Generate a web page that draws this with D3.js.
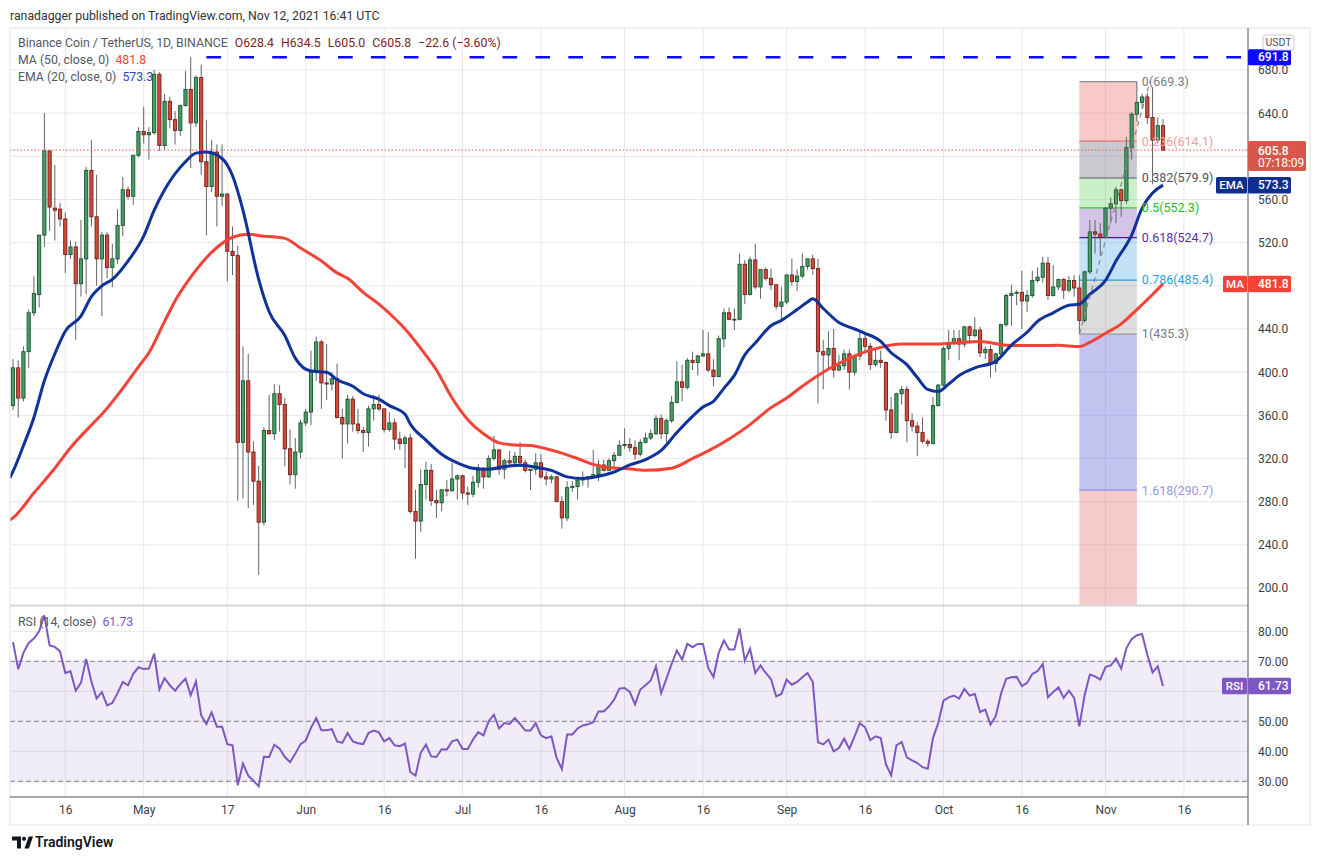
<!DOCTYPE html>
<html>
<head>
<meta charset="utf-8">
<script src="https://cdn.jsdelivr.net/npm/d3@7"></script>
<style>
  body { margin: 0; background: #fff; }
  svg { display: block; font-family: Roboto, "Open Sans", sans-serif; }
</style>
</head>
<body>
<svg id="chart" width="1320" height="860"></svg>
<script>
// BNB/USDT daily, Apr 6 - Nov 12 2021
const startDate = new Date(Date.UTC(2021, 3, 6))
// [open, high, low, close] per day
const ohlc = [
  [369,412,365,404],[404,411,358,376],[376,424,373,419],[419,458,404,455],[455,489,452,473],
  [472,527,460,527],[527,640,516,605],[605,606,531,553],[552,592,522,550],[551,557,535,542],
  [542,548,492,509],[509,522,505,516],[516,521,430,482],[482,541,470,505],[505,590,472,587],
  [587,615,535,544],[544,583,480,505],[505,530,452,527],[527,530,487,497],[497,519,479,505],
  [505,551,500,536],[536,581,526,569],[569,572,560,563],[563,601,555,601],[601,627,599,623],
  [623,646,612,620],[620,627,597,622],[622,680,620,676],[676,678,605,610],[610,658,606,651],
  [651,655,626,634],[634,642,611,624],[624,648,619,647],[647,679,646,662],[662,692,589,631],
  [631,675,627,673],[673,685,583,595],[595,634,527,572],[572,615,567,604],[604,611,535,563],
  [563,611,554,565],[565,566,484,512],[512,535,490,508],[508,517,281,335],[335,424,283,392],
  [392,417,274,326],[326,336,277,299],[299,313,212,261],[261,349,258,346],[346,379,342,343],
  [343,389,337,380],[380,388,345,370],[370,376,313,329],[329,347,296,305],[305,339,292,326],
  [326,356,320,353],[353,366,350,363],[363,420,351,400],[400,433,392,428],[428,430,366,390],
  [390,426,374,389],[389,400,383,394],[394,408,357,358],[358,366,320,352],[352,379,334,375],
  [375,378,345,352],[352,366,343,346],[346,349,326,344],[344,369,331,366],[366,379,355,370],
  [370,379,364,366],[366,366,344,347],[347,363,345,353],[353,357,328,338],[338,345,328,334],
  [334,341,311,339],[339,343,269,271],[271,291,227,262],[262,310,252,296],[296,317,282,309],
  [309,315,276,281],[281,291,265,279],[279,291,271,291],[291,300,285,290],[290,316,290,301],
  [301,305,282,304],[304,305,282,288],[288,294,277,287],[287,304,284,298],[298,315,293,309],
  [309,312,292,303],[303,323,302,320],[320,341,318,328],[328,328,305,310],[310,320,301,318],
  [318,327,312,316],[316,326,313,322],[322,335,312,316],[316,319,307,309],[309,310,291,310],
  [310,325,305,316],[316,324,301,303],[303,308,295,301],[301,305,297,303],[303,304,280,280],
  [280,285,255,265],[265,299,262,293],[293,299,289,294],[294,303,282,300],[300,308,295,302],
  [302,303,293,303],[303,328,302,305],[305,319,299,314],[314,319,308,309],[309,320,309,318],
  [318,326,312,323],[323,337,322,332],[332,348,329,333],[333,339,326,330],[330,337,319,324],
  [324,338,322,335],[335,344,334,339],[339,347,337,343],[343,360,342,357],[357,361,338,343],
  [343,357,335,355],[355,378,353,372],[372,410,371,391],[391,407,373,386],[386,413,384,411],
  [411,419,402,409],[409,416,397,415],[415,439,414,417],[417,437,400,402],[402,412,387,396],
  [396,434,396,431],[431,459,423,455],[455,460,448,449],[449,459,439,449],[449,510,448,500],
  [500,504,463,472],[472,507,471,504],[504,519,477,479],[479,495,468,495],[495,497,485,487],
  [487,496,476,481],[481,481,458,461],[461,479,449,465],[465,491,463,490],[490,505,480,484],
  [484,495,475,489],[489,510,487,498],[498,505,495,505],[505,509,490,496],[496,505,371,419],
  [419,430,384,416],[416,438,403,422],[422,440,395,402],[402,416,401,406],[406,421,402,417],
  [417,421,384,400],[400,416,397,415],[415,439,411,431],[431,436,418,424],[424,427,402,407],
  [407,421,405,411],[411,420,404,409],[409,410,355,365],[365,377,338,344],[344,381,344,380],
  [380,387,370,384],[384,387,335,355],[355,362,345,350],[350,354,322,344],[344,358,334,336],
  [336,338,331,334],[334,377,333,369],[369,389,368,388],[388,424,387,422],[422,439,411,427],
  [427,439,425,431],[431,439,411,426],[426,443,423,442],[442,443,426,434],[434,451,432,439],
  [439,442,414,418],[418,424,412,421],[421,425,395,408],[408,418,400,417],[417,445,414,444],
  [444,473,442,471],[471,481,443,473],[473,476,462,474],[474,494,440,466],[466,476,456,471],
  [471,494,469,485],[485,497,483,488],[488,507,483,501],[501,507,467,471],[471,499,470,479],
  [479,486,476,486],[486,487,468,476],[476,489,474,485],[485,490,470,478],[478,490,435.3,448],
  [448,494,446,493],[493,541,491,530],[530,541,510,528],[528,538,508,525],[525,553,524,552],
  [552,562,538,556],[556,572,538,569],[569,570,544,559],[559,618,556,608],[608,641,597,639],
  [639,669.3,632,650],[650,658,644,655],[655,659,630,636],[636,664,574,615],[615,636,612,628.4],
  [628.4,634.5,605.0,605.8]
]
// RSI(14) per day
const rsi = [
  76.4,67.4,72.8,76.1,77.6,80.0,85.3,75.3,74.8,73.3, 66.1,66.7,60.2,62.8,70.8,63.3,57.6,59.7,55.3,56.1,
  59.4,63.1,62.0,65.8,68.0,67.4,67.6,72.6,60.6,64.4, 62.0,60.2,62.4,64.2,58.7,63.3,52.0,49.1,53.0,48.2,
  48.2,42.4,42.0,28.7,35.9,31.9,30.2,28.3,38.2,38.1, 42.2,40.9,38.1,36.4,39.2,42.4,43.6,47.8,51.1,47.0,
  47.0,47.4,43.3,42.8,46.1,43.3,42.7,42.4,46.1,46.9, 46.3,43.3,44.4,42.0,41.7,42.6,33.1,31.9,39.5,42.2,
  38.3,38.1,40.7,40.6,43.3,43.9,40.8,40.8,43.9,46.4, 45.3,50.0,52.2,47.6,49.4,49.1,51.1,49.1,46.9,46.9,
  49.4,45.3,44.4,45.0,37.8,34.1,45.6,45.6,47.6,48.6, 49.0,49.7,53.3,53.3,54.9,57.2,60.9,61.1,59.8,55.6,
  60.6,62.0,63.6,68.3,59.4,64.2,69.1,73.6,70.6,75.8, 74.7,75.8,75.8,67.8,64.8,72.8,76.9,73.9,73.9,80.9,
  70.2,74.2,66.1,68.6,66.1,64.1,58.3,59.1,63.9,62.2, 63.1,64.7,66.1,63.1,43.0,42.3,43.9,40.0,41.1,44.2,
  40.8,45.0,49.4,48.0,43.7,45.0,44.4,35.6,32.0,42.0, 43.1,38.0,37.0,36.1,34.7,34.2,44.4,49.4,56.9,58.0,
  58.6,57.6,60.8,58.6,59.1,53.1,53.9,48.9,51.7,59.1, 64.2,64.7,64.8,61.7,62.8,65.8,66.7,69.1,58.0,59.8,
  61.3,57.8,60.2,57.8,48.3,58.7,65.6,65.0,63.9,68.1, 68.6,70.9,67.6,74.4,77.4,78.7,79.1,72.2,66.3,68.3,
  61.73
]
// [day index, value]
const ema20 = [
  [-0.6,302],[0,308],[2,332],[4,358],[6,392],[8,417],[10,438],[13,452],[15,470],[17,480],[19,486],
  [22,503],[25,526],[27,550],[29,569],[33,595],[35,603],[37,604],[40,598],[42,582],[44,550],[47,486],
  [49,456],[52,434],[54,413],[57,401],[60,400],[62,393],[65,387],[67,380],[70,375],[72,369],[75,361],
  [76,352],[79,337],[82,324],[85,316],[88,311],[91,310],[94,312.5],[97,313.8],[100,312],[103,309],
  [106,303],[109,301.5],[112,303.5],[115,307.5],[118,314],[121,319],[124,327.5],[127,344],[130,359],
  [132,367.7],[134,373],[136,385],[138,397],[140,416],[142,427],[145,443],[147,448],[150,458],[152,465],
  [153,468],[155,459],[158,446],[161,440],[163,436],[166,428.5],[168,418],[171,407],[173,395],[175,384],
  [177,382],[179,389],[181,397],[184,404],[188,410],[191,425],[194,437],[196,447],[199,455],[202,462],
  [204,463],[206,472],[209,485],[211,503],[214,527],[216,552],[218,566],[220,573.3]
]
const ma50 = [
  [-0.6,263],[0,265],[4,288],[8,311],[11,330],[15,351],[17,361],[21,385],[24,405],[26,418],[29,447],
  [31,466],[34,488],[38,511],[42,525],[45,527.7],[48,526],[52,524],[55,515],[59,503],[62,492],[64,487],
  [67,474],[70,463],[73,450],[75,440],[78,422],[81,402],[84,376],[87,356],[90,343],[93,334.5],[96,332.5],
  [99,332],[102,329],[105,325],[108,320],[111,314.5],[114,311.5],[117,310.8],[121,309],[126,311],[130,320],
  [133,327],[137,338],[141,351.4],[145,367],[148,376],[151,387],[154,397],[158,408],[162,417],[166,423],
  [170,426],[176,426],[180,427],[185,428.5],[190,425],[196,424.6],[200,425],[204,423.7],[206,427.7],
  [209,436],[212,444.7],[215,458],[218,472],[220,481.8]
]
const fibRatios = [0, 0.236, 0.382, 0.5, 0.618, 0.786, 1, 1.618, 2.618]
const fibLabels = ["0", "0.236", "0.382", "0.5", "0.618", "0.786", "1", "1.618", ""]
const fibHigh = 669.3, fibLow = 435.3
const fibLowDay = 204, fibHighDay = 215
const athPrice = 691.8, athFromDay = 37
const lastPrice = 605.8, lastEma = 573.3, lastMa = 481.8, lastRsi = 61.73
const priceTicks = [200, 240, 280, 320, 360, 400, 440, 480, 520, 560, 600, 640, 680]
const rsiTicks = [30, 40, 50, 60, 70, 80]
const timeTicks = [
  ["2021-04-16", "16"], ["2021-05-01", "May"], ["2021-05-17", "17"], ["2021-06-01", "Jun"],
  ["2021-06-16", "16"], ["2021-07-01", "Jul"], ["2021-07-16", "16"], ["2021-08-01", "Aug"],
  ["2021-08-16", "16"], ["2021-09-01", "Sep"], ["2021-09-16", "16"], ["2021-10-01", "Oct"],
  ["2021-10-16", "16"], ["2021-11-01", "Nov"], ["2021-11-16", "16"]
]

const svg = d3.select("#chart")
const left = 10, right = 1248, outerRight = 1310
const mainTop = 28, mainBottom = 605, rsiTop = 606, rsiBottom = 797, bottom = 825
const gridColor = "#e7e8ec", textColor = "#3c3f47"
const upFill = "#44a066", upStroke = "#1f5130", downFill = "#d9483b", downStroke = "#6e1f17"
const emaColor = "#0f329b", maColor = "#f44336", rsiColor = "#7e57c2"

const dayDate = i => new Date(+startDate + i * 864e5)
const x = d3.scaleUtc().domain([dayDate(0), dayDate(220)]).range([13, 1163])
const xi = i => x(dayDate(i))
const y = d3.scaleLinear().domain([200, 680]).range([588, 70])
const r = d3.scaleLinear().domain([30, 80]).range([781.3, 631.3])

const days = ohlc.map((d, i) => ({ i, date: dayDate(i), o: d[0], h: d[1], l: d[2], c: d[3] }))
const parseDay = d3.utcParse("%Y-%m-%d")
const tickDates = timeTicks.map(t => parseDay(t[0]))
const tickName = new Map(timeTicks.map(t => [+parseDay(t[0]), t[1]]))

const defs = svg.append("defs")
defs.append("clipPath").attr("id", "clipMain").append("rect")
  .attr("x", left).attr("y", mainTop).attr("width", right - left).attr("height", mainBottom - mainTop)
defs.append("clipPath").attr("id", "clipRsi").append("rect")
  .attr("x", left).attr("y", rsiTop).attr("width", right - left).attr("height", rsiBottom - rsiTop)

// header
svg.append("text").attr("x", 10).attr("y", 19.5).attr("font-size", 12.3).attr("fill", "#333")
  .text("ranadagger published on TradingView.com, Nov 12, 2021 16:41 UTC")

// grid
const grid = svg.append("g")
grid.selectAll("line.h").data(priceTicks).join("line")
  .attr("x1", left).attr("x2", right).attr("y1", d => y(d)).attr("y2", d => y(d))
  .attr("stroke", gridColor)
grid.selectAll("line.r").data([40, 60, 80]).join("line")
  .attr("x1", left).attr("x2", right).attr("y1", d => r(d)).attr("y2", d => r(d))
  .attr("stroke", gridColor)
grid.selectAll("line.v").data(tickDates).join("line")
  .attr("x1", d => x(d)).attr("x2", d => x(d)).attr("y1", mainTop).attr("y2", rsiBottom)
  .attr("stroke", gridColor)

// main pane
const main = svg.append("g").attr("clip-path", "url(#clipMain)")

// fib retracement box
const fibPrice = k => fibHigh - k * (fibHigh - fibLow)
const fibStyle = [
  { line: "#8c8f99", fill: null, label: "#787b86" },
  { line: "#e57373", fill: "rgba(231,76,76,0.3)", label: "#f0a0a0" },
  { line: "#5a5d66", fill: "rgba(120,123,134,0.4)", label: "#50535e" },
  { line: "#3cc83c", fill: "rgba(76,205,76,0.3)", label: "#22c022" },
  { line: "#4b1a8a", fill: "rgba(110,60,180,0.3)", label: "#5a2ea6" },
  { line: "#2a9ad8", fill: "rgba(60,160,230,0.3)", label: "#2c9fe0" },
  { line: "#9a9a9a", fill: "rgba(128,128,128,0.27)", label: "#787b86" },
  { line: "#8c8ff0", fill: "rgba(60,60,210,0.3)", label: "#9597ea" },
  { line: "#e57373", fill: "rgba(225,80,80,0.3)", label: "#e57373" }
]
const fx0 = xi(fibLowDay), fx1 = xi(fibHighDay)
const fib = main.append("g")
fib.selectAll("rect").data(fibRatios.slice(1)).join("rect")
  .attr("x", fx0).attr("width", fx1 - fx0)
  .attr("y", (d, i) => y(fibPrice(fibRatios[i])))
  .attr("height", (d, i) => y(fibPrice(d)) - y(fibPrice(fibRatios[i])))
  .attr("fill", (d, i) => fibStyle[i + 1].fill)
fib.selectAll("line").data(fibRatios.slice(0, 8)).join("line")
  .attr("x1", fx0).attr("x2", fx1).attr("y1", d => y(fibPrice(d))).attr("y2", d => y(fibPrice(d)))
  .attr("stroke", (d, i) => fibStyle[i].line).attr("stroke-width", 1.2)

// all-time-high dashed line
main.append("line")
  .attr("x1", xi(athFromDay)).attr("x2", right).attr("y1", y(athPrice)).attr("y2", y(athPrice))
  .attr("stroke", "#0a0aff").attr("stroke-width", 2.5).attr("stroke-dasharray", "14.7 18.2")

// candles
const bodyW = 3.2
main.append("g").selectAll("line").data(days).join("line")
  .attr("x1", d => x(d.date)).attr("x2", d => x(d.date))
  .attr("y1", d => y(d.h)).attr("y2", d => y(d.l))
  .attr("stroke", "#626469").attr("stroke-width", 1)
main.append("g").selectAll("rect").data(days).join("rect")
  .attr("x", d => x(d.date) - bodyW / 2).attr("width", bodyW)
  .attr("y", d => y(Math.max(d.o, d.c)))
  .attr("height", d => Math.max(0.8, Math.abs(y(d.o) - y(d.c))))
  .attr("fill", d => d.c >= d.o ? upFill : downFill)
  .attr("stroke", d => d.c >= d.o ? upStroke : downStroke).attr("stroke-width", 0.9)

// moving averages
const maLine = d3.line().x(d => xi(d[0])).y(d => y(d[1])).curve(d3.curveMonotoneX)
main.append("path").datum(ma50).attr("d", maLine)
  .attr("fill", "none").attr("stroke", maColor).attr("stroke-width", 3)
main.append("path").datum(ema20).attr("d", maLine)
  .attr("fill", "none").attr("stroke", emaColor).attr("stroke-width", 3)

// fib trend line
main.append("line")
  .attr("x1", fx0).attr("y1", y(fibLow)).attr("x2", xi(fibHighDay + 2.5)).attr("y2", y(fibHigh))
  .attr("stroke", "#8a8a8a").attr("stroke-width", 1.3).attr("stroke-dasharray", "5 4")

// last price dotted line
main.append("line")
  .attr("x1", left).attr("x2", right).attr("y1", y(lastPrice)).attr("y2", y(lastPrice))
  .attr("stroke", "#ef5350").attr("stroke-width", 1).attr("stroke-dasharray", "1.5 2")

// fib labels
const fmt1 = d3.format(".1f")
svg.append("g").selectAll("text").data(fibRatios.slice(0, 8)).join("text")
  .attr("x", fx1 + 5).attr("y", d => y(fibPrice(d))).attr("dy", "0.35em")
  .attr("font-size", 12.5).attr("fill", (d, i) => fibStyle[i].label)
  .text((d, i) => `${fibLabels[i]}(${fmt1(fibPrice(d))})`)

// RSI pane
const rsiG = svg.append("g").attr("clip-path", "url(#clipRsi)")
rsiG.append("rect").attr("x", left).attr("width", right - left)
  .attr("y", r(70)).attr("height", r(30) - r(70)).attr("fill", rsiColor).attr("fill-opacity", 0.11)
rsiG.selectAll("line.d").data([70, 50, 30]).join("line")
  .attr("x1", left).attr("x2", right).attr("y1", d => r(d)).attr("y2", d => r(d))
  .attr("stroke", "#787b86").attr("stroke-width", 1).attr("stroke-dasharray", "5 3")
rsiG.append("path").datum(rsi)
  .attr("d", d3.line().x((d, i) => xi(i)).y(d => r(d)))
  .attr("fill", "none").attr("stroke", rsiColor).attr("stroke-width", 2)

// frame
const frame = svg.append("g")
frame.append("rect").attr("x", left).attr("y", mainTop).attr("width", outerRight - left)
  .attr("height", bottom - mainTop).attr("fill", "none").attr("stroke", "#e0e3eb")
frame.append("line").attr("x1", left).attr("x2", right).attr("y1", mainBottom + 0.5).attr("y2", mainBottom + 0.5)
  .attr("stroke", "#d6d8de").attr("stroke-width", 2)
frame.append("line").attr("x1", left).attr("x2", right).attr("y1", rsiBottom).attr("y2", rsiBottom)
  .attr("stroke", "#50535e")
frame.append("line").attr("x1", right).attr("x2", right).attr("y1", mainTop).attr("y2", bottom)
  .attr("stroke", "#50535e")

// axes (labels under the value boxes are left out, as on the original)
function styleAxis(g) {
  g.select(".domain").remove()
  g.selectAll("text").attr("fill", textColor).attr("font-size", 12).attr("font-family", "Roboto, sans-serif")
}
const hiddenPrice = [600, 480], hiddenRsi = [60]
svg.append("g").attr("transform", `translate(${right},0)`)
  .call(d3.axisRight(y).tickValues(priceTicks.filter(v => !hiddenPrice.includes(v)))
    .tickFormat(d3.format(".1f")).tickSize(0).tickPadding(10))
  .call(styleAxis)
svg.append("g").attr("transform", `translate(${right},0)`)
  .call(d3.axisRight(r).tickValues(rsiTicks.filter(v => !hiddenRsi.includes(v)))
    .tickFormat(d3.format(".2f")).tickSize(0).tickPadding(10))
  .call(styleAxis)
svg.append("g").attr("transform", `translate(0,${rsiBottom})`)
  .call(d3.axisBottom(x).tickValues(tickDates).tickFormat(d => tickName.get(+d)).tickSize(0).tickPadding(8))
  .call(styleAxis)

// axis value boxes
function valueBox(yPos, txt, fill, w, h) {
  const g = svg.append("g")
  g.append("rect").attr("x", right).attr("y", yPos - h / 2).attr("width", w).attr("height", h)
    .attr("fill", fill).attr("rx", 1.5)
  g.append("text").attr("x", right + 10).attr("y", yPos).attr("dy", "0.35em")
    .attr("font-size", 12).attr("fill", "#fff").attr("font-weight", 500).text(txt)
  return g
}
function tagBox(yPos, txt, fill, x0) {
  svg.append("rect").attr("x", x0).attr("y", yPos - 8.25).attr("width", right - 1 - x0).attr("height", 16.5)
    .attr("fill", fill).attr("rx", 1.5)
  svg.append("text").attr("x", (x0 + right - 1) / 2).attr("y", yPos).attr("dy", "0.35em")
    .attr("text-anchor", "middle").attr("font-size", 11.5).attr("fill", "#fff").attr("font-weight", 500).text(txt)
}
valueBox(y(athPrice), fmt1(athPrice), "#0a0aff", 43, 16)
const lp = valueBox(y(lastPrice), fmt1(lastPrice), "#d9574a", 58, 30)
lp.select("rect").attr("y", y(lastPrice) - 9)
lp.select("text").attr("y", y(lastPrice) + 0.5)
lp.append("text").attr("x", right + 10).attr("y", y(lastPrice) + 13).attr("dy", "0.35em")
  .attr("font-size", 12).attr("fill", "#fff").text("07:18:09")
valueBox(y(lastEma), fmt1(lastEma), "#0d2f8e", 43, 16.5)
tagBox(y(lastEma), "EMA", "#0d2f8e", 1216)
valueBox(y(lastMa), fmt1(lastMa), "#f44336", 43, 16.5)
tagBox(y(lastMa), "MA", "#f44336", 1223)
valueBox(r(lastRsi), d3.format(".2f")(lastRsi), rsiColor, 43, 16.5)
tagBox(r(lastRsi), "RSI", rsiColor, 1222)

// currency tag
svg.append("rect").attr("x", 1263).attr("y", 35).attr("width", 31).attr("height", 15).attr("rx", 3)
  .attr("fill", "#fff").attr("stroke", "#c9ccd4")
svg.append("text").attr("x", 1278.5).attr("y", 42.5).attr("dy", "0.35em").attr("text-anchor", "middle")
  .attr("font-size", 10.5).attr("fill", "#50535e").text("USDT")

// legends
const legend = svg.append("g").attr("font-size", 12.3)
const l1 = legend.append("text").attr("x", 18).attr("y", 46.5)
l1.append("tspan").attr("fill", "#555862").text("Binance Coin / TetherUS, 1D, BINANCE")
l1.append("tspan").attr("dx", 7).attr("fill", "#7f2222").text("O628.4")
l1.append("tspan").attr("dx", 7).attr("fill", "#7f2222").text("H634.5")
l1.append("tspan").attr("dx", 7).attr("fill", "#7f2222").text("L605.0")
l1.append("tspan").attr("dx", 7).attr("fill", "#7f2222").text("C605.8")
l1.append("tspan").attr("dx", 7).attr("fill", "#7f2222").text("−22.6 (−3.60%)")
const l2 = legend.append("text").attr("x", 18).attr("y", 63.5)
l2.append("tspan").attr("fill", "#555862").text("MA (50, close, 0)")
l2.append("tspan").attr("dx", 6).attr("fill", maColor).text(fmt1(lastMa))
const l3 = legend.append("text").attr("x", 18).attr("y", 81)
l3.append("tspan").attr("fill", "#555862").text("EMA (20, close, 0)")
l3.append("tspan").attr("dx", 6).attr("fill", "#2748b8").text(fmt1(lastEma))
const l4 = legend.append("text").attr("x", 18).attr("y", 625.5)
l4.append("tspan").attr("fill", "#555862").text("RSI (14, close)")
l4.append("tspan").attr("dx", 6).attr("fill", rsiColor).text(d3.format(".2f")(lastRsi))

// TradingView logo
const logo = svg.append("g").attr("fill", "#131722")
logo.append("path").attr("d", "M12,836.5 h9 v12 h-4 v-8 h-5 z")
logo.append("circle").attr("cx", 24).attr("cy", 838.8).attr("r", 2.1)
logo.append("path").attr("d", "M24.5,848.5 l4.2,-12 h4.4 l-4.2,12 z")
logo.append("text").attr("x", 35).attr("y", 847).attr("font-size", 14).attr("font-weight", 600)
  .text("TradingView")
</script>
</body>
</html>
